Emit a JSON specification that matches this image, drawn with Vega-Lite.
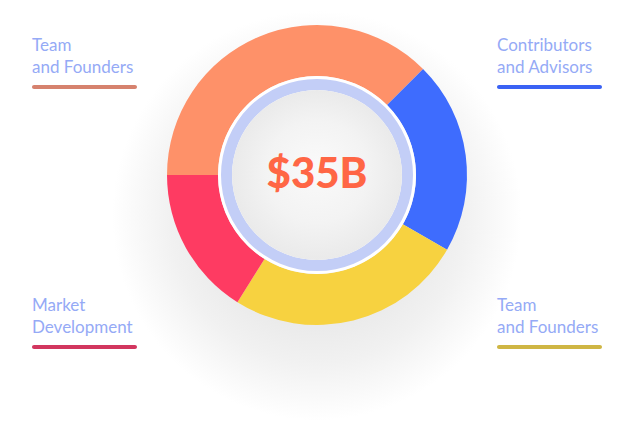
{
  "$schema": "https://vega.github.io/schema/vega-lite/v6.json",
  "width": 634,
  "height": 350,
  "autosize": {"type": "none"},
  "padding": {"left": 0, "top": 0, "right": 0, "bottom": 85},
  "background": "#ffffff",
  "config": {"view": {"stroke": null}},
  "data": {
    "values": [
      {"id": 1, "label": "Team\nand Founders", "share": 37.5, "side": "left", "row": "top"},
      {"id": 2, "label": "Contributors\nand Advisors", "share": 20.8, "side": "right", "row": "top"},
      {"id": 3, "label": "Team\nand Founders", "share": 25.6, "side": "right", "row": "bottom"},
      {"id": 4, "label": "Market\nDevelopment", "share": 16.1, "side": "left", "row": "bottom"}
    ]
  },
  "layer": [
    {
      "data": {"values": [{"part": "shadow"}]},
      "mark": {
        "type": "arc", "theta": 0, "theta2": 6.2832, "radius": 290, "radius2": 0,
        "fill": {
          "gradient": "radial", "x1": 0.5, "y1": 0.57, "r1": 0, "x2": 0.5, "y2": 0.57, "r2": 0.353,
          "stops": [
            {"offset": 0, "color": "#e4e4e4"},
            {"offset": 0.55, "color": "#ebebeb"},
            {"offset": 0.72, "color": "#f1f1f1"},
            {"offset": 0.86, "color": "#f8f8f8"},
            {"offset": 1, "color": "#ffffff"}
          ]
        }
      },
      "encoding": {}
    },
    {
      "mark": {"type": "arc", "radius": 150, "radius2": 99},
      "encoding": {
        "theta": {"field": "share", "type": "quantitative", "stack": true, "scale": {"range": [-1.5708, 4.7124]}},
        "order": {"field": "id", "type": "ordinal"},
        "color": {
          "field": "id", "type": "nominal", "legend": null,
          "scale": {"domain": [1, 2, 3, 4], "range": ["#fe9169", "#3e6cfe", "#f7d240", "#fe3b62"]}
        }
      }
    },
    {
      "data": {"values": [{"part": "gap"}]},
      "mark": {"type": "arc", "theta": 0, "theta2": 6.2832, "radius": 99, "radius2": 0, "fill": "#ffffff"},
      "encoding": {}
    },
    {
      "data": {"values": [{"part": "ring"}]},
      "mark": {"type": "arc", "theta": 0, "theta2": 6.2832, "radius": 96, "radius2": 85, "fill": "#c3cef7"},
      "encoding": {}
    },
    {
      "data": {"values": [{"part": "centre"}]},
      "mark": {
        "type": "arc", "theta": 0, "theta2": 6.2832, "radius": 85, "radius2": 0,
        "fill": {
          "gradient": "radial", "x1": 0.5, "y1": 0.45, "r1": 0, "x2": 0.5, "y2": 0.5, "r2": 0.5,
          "stops": [
            {"offset": 0, "color": "#fafafa"},
            {"offset": 0.6, "color": "#f3f3f3"},
            {"offset": 1, "color": "#eaeaea"}
          ]
        }
      },
      "encoding": {}
    },
    {
      "data": {"values": [{"total": "$35B"}]},
      "mark": {"type": "text", "font": "Lato", "fontSize": 42, "fontWeight": 900, "color": "#ff6645", "align": "center", "baseline": "middle"},
      "encoding": {"text": {"field": "total", "type": "nominal"}}
    },
    {
      "mark": {"type": "text", "font": "Lato", "fontSize": 17, "color": "#95aaf6", "align": "left", "baseline": "alphabetic", "lineBreak": "\n", "lineHeight": 22},
      "encoding": {
        "x": {"field": "side", "type": "nominal", "bandPosition": 0, "axis": null,
              "scale": {"type": "band", "domain": ["left", "right"], "range": [32, 602], "paddingInner": 0.7742, "paddingOuter": 0}},
        "y": {"field": "row", "type": "nominal", "axis": null,
              "scale": {"type": "point", "domain": ["top", "bottom"], "range": [51, 311], "padding": 0}},
        "text": {"field": "label", "type": "nominal"}
      }
    },
    {
      "mark": {"type": "bar", "height": 4, "cornerRadius": 2},
      "encoding": {
        "x": {"field": "side", "type": "nominal", "axis": null,
              "scale": {"type": "band", "domain": ["left", "right"], "range": [32, 602], "paddingInner": 0.7742, "paddingOuter": 0}},
        "y": {"field": "row", "type": "nominal", "axis": null,
              "scale": {"type": "point", "domain": ["top", "bottom"], "range": [87, 347], "padding": 0}},
        "color": {
          "field": "id", "type": "nominal", "legend": null,
          "scale": {"domain": [1, 2, 3, 4], "range": ["#d6826e", "#3a62f4", "#cfb644", "#d2365f"]}
        }
      }
    }
  ],
  "resolve": {"scale": {"color": "independent", "y": "independent"}}
}
